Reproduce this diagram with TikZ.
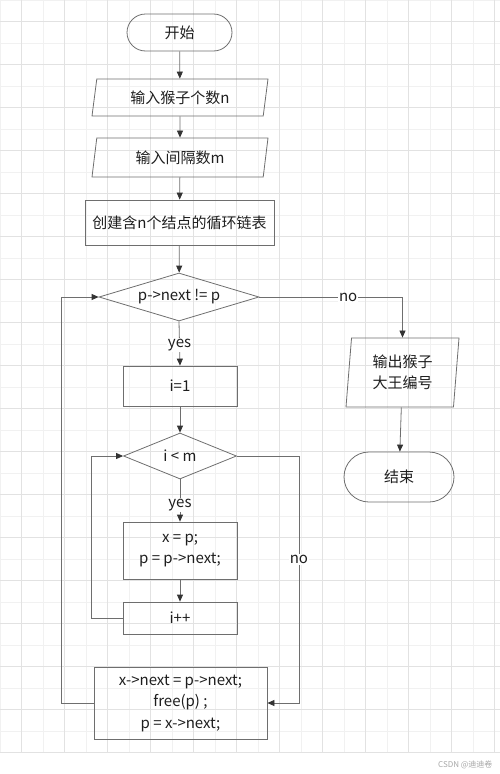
\documentclass[tikz,border=0pt]{standalone}
\usepackage{fontspec}
\setmainfont{Noto Sans CJK SC}
\usetikzlibrary{arrows.meta, shapes.geometric, shapes.misc}
\definecolor{linegray}{HTML}{6E6E6E}
\definecolor{tipgray}{HTML}{333333}
\definecolor{gridminor}{HTML}{F1F1F1}
\definecolor{gridmajor}{HTML}{E2E2E2}
\definecolor{textblack}{HTML}{1E1E1E}

\begin{document}
\begin{tikzpicture}[x=1pt, y=1pt]
    \tikzstyle{base_style} = [draw=linegray, line width=0.8pt, text=textblack,
        font=\fontsize{15}{21.5}\selectfont, align=center, inner sep=2pt]
    \tikzstyle{term_style} = [base_style, rounded rectangle]
    \tikzstyle{io_style} = [base_style, trapezium, trapezium stretches body]
    \tikzstyle{box_style} = [base_style, rectangle]
    \tikzstyle{dec_style} = [base_style, diamond, aspect=3.3, inner sep=0pt]
    \tikzstyle{arrow_style} = [line width=0.8pt, draw=linegray,
        -{Triangle[length=7pt, width=6pt, color=tipgray]}]
    \tikzstyle{label_style} = [fill=white, inner sep=1pt, text=textblack,
        font=\fontsize{15}{18}\selectfont]

    % background grid
    \useasboundingbox (0,0) rectangle (500,-774);
    \begin{scope}
        \draw[step=21.5pt, color=gridminor, line width=0.6pt] (0,-752.5) grid (500,0);
        \draw[step=43pt, color=gridmajor, line width=0.6pt, shift={(21.5,-21.5)}]
            (-21.5,-731) grid (478.5,21.5);
        \node[anchor=east, text=gray!70, font=\fontsize{8}{10}\selectfont] (mark)
            at (496,-765) {CSDN @迪迪卷};
    \end{scope}

    % main column
    \node[term_style, minimum width=109pt, minimum height=37pt] (start) at (179.5,-32.5) {开始};
    \node[io_style, trapezium left angle=75, trapezium right angle=105,
        minimum width=176pt, minimum height=37pt] (inN) at (180,-97.5) {输入猴子个数n};
    \node[io_style, trapezium left angle=75, trapezium right angle=105,
        minimum width=176pt, minimum height=39pt] (inM) at (180,-157.5) {输入间隔数m};
    \node[box_style, minimum width=189pt, minimum height=45pt] (create) at (179.5,-222.5) {创建含n个结点的循环链表};
    \node[dec_style, minimum width=160pt, minimum height=48pt] (outer) at (179,-297) {p->next != p};
    \node[box_style, minimum width=114pt, minimum height=40pt] (init) at (180,-386) {i=1};
    \node[dec_style, minimum width=113pt, minimum height=46pt] (inner) at (180,-456) {i < m};
    \node[box_style, minimum width=114pt, minimum height=57pt] (step) at (180,-550.5) {x = p;\\p = p->next;};
    \node[box_style, minimum width=114pt, minimum height=32pt] (incr) at (180,-618) {i++};
    \node[box_style, minimum width=173pt, minimum height=72pt] (del) at (180.5,-703)
        {x->next = p->next;\\free(p) ;\\p = x->next;};

    % right column
    \node[io_style, trapezium left angle=82, trapezium right angle=98,
        minimum width=113pt, minimum height=69pt] (out) at (402.5,-372.5) {输出猴子\\大王编号};
    \node[term_style, minimum width=114pt, minimum height=50pt] (stop) at (399,-477) {结束};

    % connectors
    \draw[arrow_style] (start) -- (inN);
    \draw[arrow_style] (inN) -- (inM);
    \draw[arrow_style] (inM) -- (create);
    \draw[arrow_style] (create) -- (outer);
    \draw[arrow_style] (outer.east) -| (out.north) node[label_style, pos=0.31] {no};
    \draw[arrow_style] (out) -- (stop);
    \draw[arrow_style] (outer.south) -- (init.north) node[label_style, pos=0.53] {yes};
    \draw[arrow_style] (init) -- (inner);
    \draw[arrow_style] (inner.south) -- (step.north) node[label_style, pos=0.6] {yes};
    \draw[arrow_style] (step) -- (incr);
    \draw[arrow_style] (incr.west) -- ++(-31,0) |- (inner.west);
    \draw[arrow_style] (inner.east) -- ++(62,0) |- (del.east) node[label_style, pos=0.21] {no};
    \draw[arrow_style] (del.west) -- ++(-32,0) |- (outer.west);
\end{tikzpicture}
\end{document}
